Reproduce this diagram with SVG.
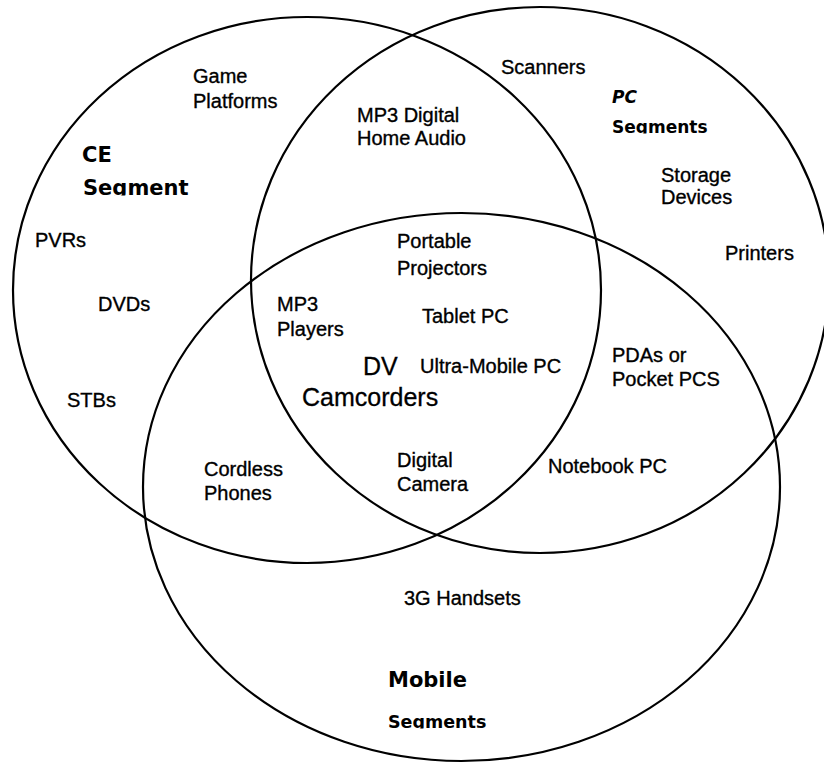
<svg xmlns="http://www.w3.org/2000/svg" width="824" height="763" viewBox="0 0 824 763">
<style>
.ring{fill:none;stroke:#000;stroke-width:2.2}
.lbl{font-family:"Liberation Sans",Arial,sans-serif;font-size:20px;fill:#000;stroke:#000;stroke-width:0.35}
.big{font-family:"Liberation Sans",Arial,sans-serif;font-size:25px;fill:#000;stroke:#000;stroke-width:0.3}
.seg{font-family:"DejaVu Sans",sans-serif;font-weight:bold;fill:#000}
</style>
<defs>
<clipPath id="clipCE"><rect x="70" y="170" width="140" height="25.5"/></clipPath>
<clipPath id="clipPC"><rect x="600" y="110" width="130" height="23.5"/></clipPath>
<clipPath id="clipMob"><rect x="375" y="700" width="140" height="28.5"/></clipPath>
</defs>
<rect width="824" height="763" fill="#fff"/>
<g id="connectors"/>
<g id="ce-circle">
<ellipse class="ring" cx="307" cy="290" rx="294" ry="273"/>
<text class="seg" x="82" y="162" font-size="21">CE</text>
<text class="seg" x="83" y="195" font-size="21" clip-path="url(#clipCE)">Segment</text>
</g>
<g id="pc-circle">
<ellipse class="ring" cx="540" cy="280" rx="289" ry="273"/>
<text class="seg" x="612" y="103" font-size="17" font-style="italic">PC</text>
<text class="seg" x="612" y="133" font-size="17" clip-path="url(#clipPC)">Segments</text>
</g>
<g id="mobile-circle">
<ellipse class="ring" cx="461.5" cy="487" rx="318.5" ry="274"/>
<text class="seg" x="388" y="687" font-size="21">Mobile</text>
<text class="seg" x="388" y="728" font-size="17.5" clip-path="url(#clipMob)">Segments</text>
</g>
<g id="game-platforms"><text class="lbl" x="193" y="83">Game</text><text class="lbl" x="193" y="108">Platforms</text></g>
<g id="mp3-home-audio"><text class="lbl" x="357" y="122">MP3 Digital</text><text class="lbl" x="357" y="145">Home Audio</text></g>
<g id="scanners"><text class="lbl" x="501" y="74">Scanners</text></g>
<g id="storage-devices"><text class="lbl" x="661" y="182">Storage</text><text class="lbl" x="661" y="204">Devices</text></g>
<g id="printers"><text class="lbl" x="725" y="260">Printers</text></g>
<g id="pvrs"><text class="lbl" x="35" y="247">PVRs</text></g>
<g id="portable-projectors"><text class="lbl" x="397" y="248">Portable</text><text class="lbl" x="397" y="275">Projectors</text></g>
<g id="dvds"><text class="lbl" x="98" y="311">DVDs</text></g>
<g id="mp3-players"><text class="lbl" x="277" y="311">MP3</text><text class="lbl" x="277" y="336">Players</text></g>
<g id="tablet-pc"><text class="lbl" x="422" y="323">Tablet PC</text></g>
<g id="pdas"><text class="lbl" x="612" y="362">PDAs or</text><text class="lbl" x="612" y="386">Pocket PCS</text></g>
<g id="umpc"><text class="lbl" x="420" y="373">Ultra-Mobile PC</text></g>
<g id="dv-camcorders"><text class="big" x="363" y="375">DV</text><text class="big" x="302" y="406">Camcorders</text></g>
<g id="stbs"><text class="lbl" x="67" y="407">STBs</text></g>
<g id="cordless-phones"><text class="lbl" x="204" y="476">Cordless</text><text class="lbl" x="204" y="500">Phones</text></g>
<g id="digital-camera"><text class="lbl" x="397" y="467">Digital</text><text class="lbl" x="397" y="491">Camera</text></g>
<g id="notebook-pc"><text class="lbl" x="548" y="473">Notebook PC</text></g>
<g id="handsets-3g"><text class="lbl" x="404" y="605">3G Handsets</text></g>
</svg>
